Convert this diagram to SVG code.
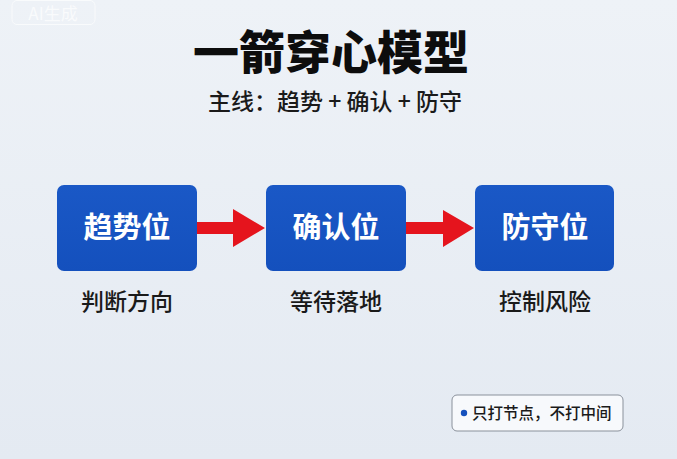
<svg xmlns="http://www.w3.org/2000/svg" width="677" height="459" viewBox="0 0 677 459">
  <defs>
    <linearGradient id="bg" x1="0" y1="0" x2="0" y2="1">
      <stop offset="0" stop-color="#eef2f7"/>
      <stop offset="1" stop-color="#e4eaf2"/>
    </linearGradient>
    <linearGradient id="boxfill" x1="0" y1="0" x2="0" y2="1">
      <stop offset="0" stop-color="#1a58c6"/>
      <stop offset="1" stop-color="#1450bd"/>
    </linearGradient>
  </defs>
  <style>
    .cjk { font-family: "Noto Sans CJK SC", "Noto Sans", sans-serif; }
    .title { font-size: 46px; font-weight: 900; fill: #0d0d0d; }
    .sub { font-size: 23px; font-weight: 500; fill: #1a1a1a; }
    .box { fill: url(#boxfill); }
    .boxtxt { font-size: 29px; font-weight: 700; fill: #ffffff; }
    .lbl { font-size: 23px; font-weight: 500; fill: #1a1a1a; }
    .arrow { fill: #e5141d; }
    .legend { fill: #f7f9fc; stroke: #8a919b; stroke-width: 1; }
    .legtxt { font-size: 15.5px; font-weight: 500; fill: #1a1a1a; }
  </style>
  <rect width="677" height="459" fill="url(#bg)"/>

  <g id="watermark" opacity="0.7">
    <rect x="12" y="0.5" width="83" height="24" rx="5" fill="none" stroke="#ffffff" stroke-width="1"/>
    <text x="53" y="20" class="cjk" font-size="17" fill="#ffffff" text-anchor="middle">AI生成</text>
  </g>

  <g id="title">
    <text x="331" y="69" class="cjk title" text-anchor="middle">一箭穿心模型</text>
    <text x="335" y="110" class="cjk sub" text-anchor="middle">主线：趋势 + 确认 + 防守</text>
  </g>

  <g id="connectors">
    <polygon class="arrow" points="197,222 233,222 233,209 265,228 233,247 233,234 197,234"/>
    <polygon class="arrow" points="406,222 443,222 443,210 474,228 443,247 443,234 406,234"/>
  </g>

  <g id="node-trend">
    <rect class="box" x="57" y="185" width="140" height="86" rx="7"/>
    <text x="127" y="238" class="cjk boxtxt" text-anchor="middle">趋势位</text>
    <text x="127" y="310" class="cjk lbl" text-anchor="middle">判断方向</text>
  </g>

  <g id="node-confirm">
    <rect class="box" x="266" y="185" width="140" height="86" rx="7"/>
    <text x="336" y="238" class="cjk boxtxt" text-anchor="middle">确认位</text>
    <text x="336" y="310" class="cjk lbl" text-anchor="middle">等待落地</text>
  </g>

  <g id="node-defend">
    <rect class="box" x="475" y="185" width="139" height="86" rx="7"/>
    <text x="545" y="238" class="cjk boxtxt" text-anchor="middle">防守位</text>
    <text x="545" y="310" class="cjk lbl" text-anchor="middle">控制风险</text>
  </g>

  <g id="legend">
    <rect class="legend" x="452" y="395" width="171" height="36" rx="5"/>
    <circle cx="464" cy="413" r="3.2" fill="#1450bd"/>
    <text x="472" y="418.5" class="cjk legtxt">只打节点，不打中间</text>
  </g>
</svg>
